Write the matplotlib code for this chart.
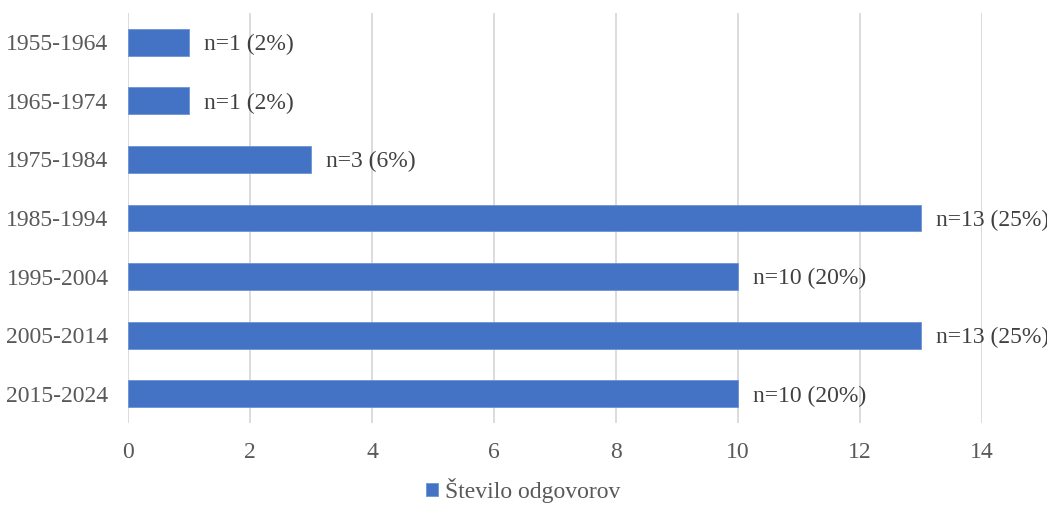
import matplotlib.pyplot as plt
import numpy as np

plt.rcParams['font.family'] = ['Liberation Serif', 'DejaVu Serif']

# response counts per decade
periods = ['1955-1964', '1965-1974', '1975-1984', '1985-1994',
           '1995-2004', '2005-2014', '2015-2024']
counts = [1, 1, 3, 13, 10, 13, 10]
shares = [2, 2, 6, 25, 20, 25, 20]

bar_color = '#4472C4'
text_color = '#595959'

fig = plt.figure(figsize=(10.47, 5.09), dpi=100)
ax = fig.add_axes([0.1223, 0.169, 0.8156, 0.8055])

y = np.arange(len(periods))
ax.barh(y, counts, height=0.46, color=bar_color, edgecolor='#6B93D6',
        linewidth=0.6, label='Število odgovorov', zorder=3)

for yi, c, s in zip(y, counts, shares):
    ax.text(c + 0.24, yi + 0.04, f'n={c} ({s}%)', va='center', ha='left',
            fontsize=17, color='#404040', zorder=4)

ax.set_xlim(0, 14)
ax.set_ylim(len(periods) - 0.5, -0.5)
ax.set_xticks(range(0, 15, 2))
ax.set_yticks(y)
ax.set_yticklabels(periods)
ax.tick_params(axis='both', length=0, labelsize=17, labelcolor=text_color)
ax.tick_params(axis='x', pad=14)
ax.tick_params(axis='y', pad=14)
ax.grid(axis='x', color='#D9D9D9', linewidth=1.3, zorder=0)
for sp in ax.spines.values():
    sp.set_visible(False)

leg = fig.legend(loc='lower center', bbox_to_anchor=(0.5, -0.03), frameon=False,
                 fontsize=17, handlelength=0.5, handleheight=0.5,
                 handletextpad=0.3)
for t in leg.get_texts():
    t.set_color(text_color)

fig.savefig('out.png', dpi=100)
